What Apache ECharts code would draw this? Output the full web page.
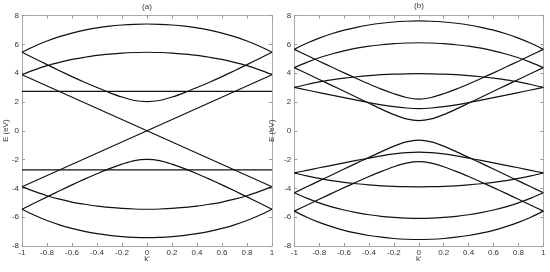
<!DOCTYPE html>
<html>
<head>
<meta charset="utf-8">
<script src="https://cdn.jsdelivr.net/npm/echarts@6/dist/echarts.min.js"></script>
<style>html,body{margin:0;padding:0;background:#fff}#c{width:550px;height:272px}</style>
</head>
<body>
<div id="c"></div>
<script>
// ---- data ----
const kValues = [-1,-0.9,-0.8,-0.7,-0.6,-0.5,-0.4,-0.3,-0.2,-0.1,0,0.1,0.2,0.3,0.4,0.5,0.6,0.7,0.8,0.9,1];
const xTicks = ['-1','-0.8','-0.6','-0.4','-0.2','0','0.2','0.4','0.6','0.8','1'];
const yTicks = ['-8','-6','-4','-2','0','2','4','6','8'];

// panel (a)
const aTop    = [5.45,5.87,6.23,6.53,6.78,6.98,7.14,7.26,7.34,7.39,7.41,7.39,7.34,7.26,7.14,6.98,6.78,6.53,6.23,5.87,5.45];
const aMid    = [3.90,4.23,4.52,4.75,4.95,5.10,5.23,5.32,5.39,5.43,5.45,5.43,5.39,5.32,5.23,5.10,4.95,4.75,4.52,4.23,3.90];
const aLow    = [5.45,5.02,4.59,4.17,3.76,3.37,3.00,2.65,2.34,2.10,2.02,2.10,2.34,2.65,3.00,3.37,3.76,4.17,4.59,5.02,5.45];
const aTopNeg = [-5.45,-5.87,-6.23,-6.53,-6.78,-6.98,-7.14,-7.26,-7.35,-7.40,-7.42,-7.40,-7.35,-7.26,-7.14,-6.98,-6.78,-6.53,-6.23,-5.87,-5.45];
const aMidNeg = [-3.88,-4.21,-4.51,-4.75,-4.95,-5.10,-5.23,-5.32,-5.39,-5.43,-5.45,-5.43,-5.39,-5.32,-5.23,-5.10,-4.95,-4.75,-4.51,-4.21,-3.88];
const aLowNeg = [-5.45,-5.02,-4.59,-4.17,-3.76,-3.36,-2.98,-2.63,-2.32,-2.07,-1.99,-2.07,-2.32,-2.63,-2.98,-3.36,-3.76,-4.17,-4.59,-5.02,-5.45];
const aLineK    = [-1, 1];
const aLineDown = [3.89, -3.89];
const aLineUp   = [-3.89, 3.89];
const aFlatUp   = [2.73, 2.73];
const aFlatDown = [-2.72, -2.72];

// panel (b)
const bC1 = [5.65,6.07,6.43,6.73,6.98,7.18,7.34,7.46,7.55,7.60,7.62,7.60,7.55,7.46,7.34,7.18,6.98,6.73,6.43,6.07,5.65];
const bC2 = [4.38,4.75,5.07,5.33,5.55,5.73,5.87,5.97,6.05,6.09,6.11,6.09,6.05,5.97,5.87,5.73,5.55,5.33,5.07,4.75,4.38];
const bC3 = [3.01,3.21,3.39,3.53,3.65,3.75,3.83,3.89,3.93,3.95,3.96,3.95,3.93,3.89,3.83,3.75,3.65,3.53,3.39,3.21,3.01];
const bC4 = [5.65,5.24,4.83,4.42,4.02,3.63,3.25,2.89,2.57,2.31,2.20,2.31,2.57,2.89,3.25,3.63,4.02,4.42,4.83,5.24,5.65];
const bC5 = [4.38,3.97,3.56,3.15,2.74,2.32,1.91,1.50,1.12,0.82,0.70,0.82,1.12,1.50,1.91,2.32,2.74,3.15,3.56,3.97,4.38];
const bC6 = [3.01,2.83,2.65,2.47,2.30,2.13,1.96,1.80,1.67,1.58,1.54,1.58,1.67,1.80,1.96,2.13,2.30,2.47,2.65,2.83,3.01];
const bC1Neg = [-5.58,-6.00,-6.36,-6.66,-6.91,-7.11,-7.27,-7.39,-7.48,-7.53,-7.55,-7.53,-7.48,-7.39,-7.27,-7.11,-6.91,-6.66,-6.36,-6.00,-5.58];
const bC2Neg = [-4.30,-4.68,-5.01,-5.28,-5.50,-5.68,-5.83,-5.94,-6.01,-6.06,-6.08,-6.06,-6.01,-5.94,-5.83,-5.68,-5.50,-5.28,-5.01,-4.68,-4.30];
const bC3Neg = [-2.93,-3.13,-3.31,-3.46,-3.58,-3.68,-3.76,-3.82,-3.86,-3.88,-3.89,-3.88,-3.86,-3.82,-3.76,-3.68,-3.58,-3.46,-3.31,-3.13,-2.93];
const bC4Neg = [-5.58,-5.17,-4.76,-4.35,-3.95,-3.56,-3.18,-2.82,-2.50,-2.25,-2.15,-2.25,-2.50,-2.82,-3.18,-3.56,-3.95,-4.35,-4.76,-5.17,-5.58];
const bC5Neg = [-4.30,-3.89,-3.48,-3.07,-2.66,-2.25,-1.85,-1.45,-1.07,-0.77,-0.65,-0.77,-1.07,-1.45,-1.85,-2.25,-2.66,-3.07,-3.48,-3.89,-4.30];
const bC6Neg = [-2.93,-2.75,-2.57,-2.40,-2.23,-2.06,-1.90,-1.74,-1.61,-1.52,-1.48,-1.52,-1.61,-1.74,-1.90,-2.06,-2.23,-2.40,-2.57,-2.75,-2.93];

// ---- chart ----
const FONT = 'Liberation Sans';
const pair = (ks, vs) => ks.map((k, i) => [k, vs[i]]);
const lineStyle = {color: '#111', width: 1.2};
function curve(vals, xi, yi) {
  return {type: 'line', xAxisIndex: xi, yAxisIndex: yi, data: pair(kValues, vals),
    smooth: 0.3, showSymbol: false, symbol: 'none', lineStyle, silent: true, animation: false};
}
function straight(ks, vals, xi, yi) {
  return {type: 'line', xAxisIndex: xi, yAxisIndex: yi, data: pair(ks, vals),
    showSymbol: false, symbol: 'none', lineStyle, silent: true, animation: false};
}
const axisCommon = {
  axisLine: {show: true, onZero: false, lineStyle: {color: '#aaa', width: 1}},
  axisTick: {show: true, inside: true, length: 3, lineStyle: {color: '#999'}},
  splitLine: {show: false}
};
function xAx(grid, pos, showLabel, name) {
  return Object.assign({}, axisCommon, {
    type: 'value', gridIndex: grid, position: pos, min: -1, max: 1, interval: 0.2,
    axisLabel: {show: showLabel, fontFamily: FONT, fontSize: 8, color: '#333', margin: 3,
      formatter: v => xTicks[Math.round((v + 1) / 0.2)]},
    name: name || '', nameLocation: 'middle', nameGap: 9, nameMoveOverlap: false,
    nameTextStyle: {fontFamily: FONT, fontSize: 8, color: '#333'}
  });
}
function yAx(grid, pos, showLabel, gap) {
  return Object.assign({}, axisCommon, {
    type: 'value', gridIndex: grid, position: pos, min: -8, max: 8, interval: 2,
    axisLabel: {show: showLabel, fontFamily: FONT, fontSize: 8, color: '#333', margin: 3,
      formatter: v => yTicks[Math.round((v + 8) / 2)]},
    name: showLabel ? 'E (eV)' : '', nameLocation: 'middle', nameGap: gap || 10, nameMoveOverlap: false,
    nameTextStyle: {fontFamily: FONT, fontSize: 8, color: '#333'}
  });
}
const chart = echarts.init(document.getElementById('c'), null, {renderer: 'canvas'});
chart.setOption({
  backgroundColor: '#fff',
  animation: false,
  title: [
    {text: '(a)', left: 147, top: 3, padding: 0, textAlign: 'center', textStyle: {fontFamily: FONT, fontSize: 8, fontWeight: 'normal', color: '#333'}},
    {text: '(b)', left: 419, top: 2, padding: 0, textAlign: 'center', textStyle: {fontFamily: FONT, fontSize: 8, fontWeight: 'normal', color: '#333'}}
  ],
  grid: [
    {left: 22, right: 278, top: 15.5, bottom: 26, containLabel: false, outerBoundsMode: 'none'},
    {left: 294.3, right: 6.7, top: 15.5, bottom: 26, containLabel: false, outerBoundsMode: 'none'}
  ],
  xAxis: [xAx(0, 'bottom', true, "k'"), xAx(0, 'top', false), xAx(1, 'bottom', true, "k'"), xAx(1, 'top', false)],
  yAxis: [yAx(0, 'left', true, 12), yAx(0, 'right', false), yAx(1, 'left', true, 19), yAx(1, 'right', false)],
  series: [
    curve(aTop, 0, 0), curve(aMid, 0, 0), curve(aLow, 0, 0),
    curve(aTopNeg, 0, 0), curve(aMidNeg, 0, 0), curve(aLowNeg, 0, 0),
    straight(aLineK, aLineDown, 0, 0), straight(aLineK, aLineUp, 0, 0),
    straight(aLineK, aFlatUp, 0, 0), straight(aLineK, aFlatDown, 0, 0),
    curve(bC1, 2, 2), curve(bC2, 2, 2), curve(bC3, 2, 2), curve(bC4, 2, 2), curve(bC5, 2, 2), curve(bC6, 2, 2),
    curve(bC1Neg, 2, 2), curve(bC2Neg, 2, 2), curve(bC3Neg, 2, 2), curve(bC4Neg, 2, 2), curve(bC5Neg, 2, 2), curve(bC6Neg, 2, 2)
  ]
});
</script>
</body>
</html>
